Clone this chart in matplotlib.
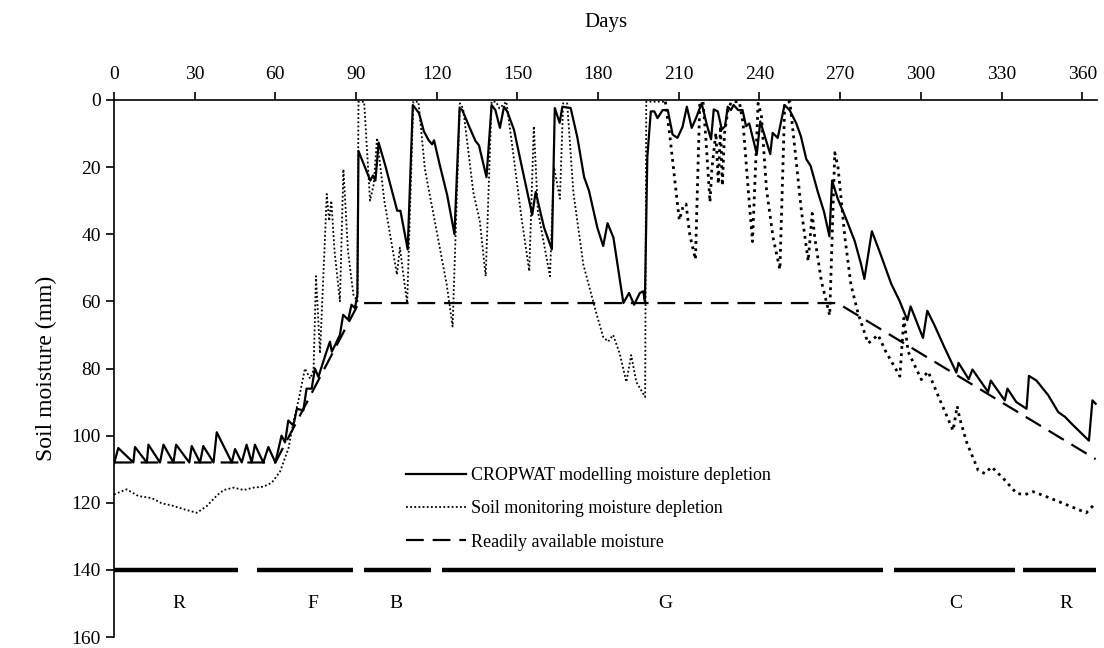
import matplotlib
matplotlib.use("Agg")
import matplotlib.pyplot as plt
from matplotlib.lines import Line2D

plt.rcParams['font.family'] = ['Liberation Serif', 'DejaVu Serif']

# CROPWAT modelled depletion (day, mm)
cropwat_days = [0, 1.6, 7.2, 7.8, 12.2, 12.8, 17.1, 18.4, 22.1, 23.1, 28, 28.9, 32, 33.2, 37, 38.2,
                43.8, 45, 47.5, 49.3, 51.2, 52.4, 55.5, 57.4, 60,
                62.3, 63.6, 64.8, 66.7, 68, 70.4, 71.6, 73.5, 74.7, 76, 79, 80.3, 81, 84, 85.2, 87.1,
                88.3, 89.6, 90.5,
                90.9, 95.3, 96.3, 97.2, 98.4, 100.9, 105.3, 106.5, 109.2, 111.1, 113.4, 115.2, 117,
                118.3, 119, 121.2, 123.9, 126.6, 128.5, 129.5, 132, 134.4, 135.7, 138.5, 140.4, 141.8,
                143.5, 145, 146.2, 148.7, 151.8, 155.5, 156.8, 159.9, 162.8, 163.9, 165.7, 166.7, 169.8,
                172.3, 174.8, 176.6, 179.7, 181.9, 183.5, 185.7, 189.4, 191.5, 193.4, 195.5, 196.8,
                197.4, 198.3, 199.6, 200.9, 202.1, 204, 205.9, 207.7, 209.5, 211.4, 213, 214.8, 216.4,
                218.5, 220.5, 222, 223, 224.5, 226, 227.2, 228.2, 229.4, 230.4, 232.1, 233.7, 235, 236.2,
                239, 240.3, 241.8, 244, 244.9, 246.8, 249.3, 251.2, 253.6, 255.4, 257.4, 259, 261.7,
                264, 266, 267, 269.1, 272.1, 275.4, 277.8, 279, 281.8, 285, 289, 292, 295, 296.2, 298.7,
                300.8, 302.4, 305, 308.6, 313.2, 314, 317.8, 319.2, 325, 326, 331.2, 332.2, 335.5, 339.3,
                340.2, 343, 347.4, 351.1, 353.6, 356, 362.5, 363.8, 365]
cropwat_vals = [108.3, 103.7, 108, 103.4, 108, 102.7, 108, 102.7, 108, 102.7, 108, 103.1, 108, 103.1, 108, 99,
                108, 104, 108, 102.7, 108, 102.7, 108, 103.4, 108,
                100, 102, 95.5, 97, 92, 92.5, 86, 86, 80, 82.5, 75, 72, 75, 70, 64, 65.5,
                61, 62, 58,
                15.2, 24, 22.5, 24, 12.7, 19.6, 33, 33, 44.5, 1.5, 3.9, 9.3, 12,
                13.2, 12, 19.6, 28.4, 40, 2.4, 3, 7.8, 12.2, 13.5, 23, 1.5, 3,
                8.3, 2, 3.4, 8.8, 20.5, 34.2, 27.4, 38, 44.5, 2.4, 6.8, 2, 2.4,
                11.2, 23, 27, 38, 43.5, 36.7, 41, 60.5, 57.5, 61, 57.5, 57,
                60, 17, 3.4, 3.4, 5.4, 3, 3, 10.3, 11.3, 8, 2, 8.3, 5.4,
                1, 7.6, 11.7, 2.8, 3.4, 8.8, 7.8, 2, 3, 1.5, 3, 3, 7.8, 7,
                16.1, 6.4, 10.3, 16.1, 9.8, 11.3, 1.5, 3, 6.8, 10.8, 17.6, 19.6, 27.4,
                33.3, 40.6, 24, 29.4, 35.2, 42, 49, 53.3, 39.1, 45.9, 54.8, 59.7, 65.6, 61.5, 66.6,
                70.9, 62.8, 67, 73.4, 81.2, 78.3, 83.2, 80.3, 87, 83.6, 89.5, 86, 90, 92,
                82.2, 83.6, 88, 93, 94.4, 96.4, 101.5, 89.5, 90.5]

# soil monitoring depletion, first part (fine dots)
soil_days_a = [0, 4.7, 9, 14, 17.8, 21.5, 25.8, 30.8, 34.5, 38.3, 40.8, 44.5, 48.2, 51.9, 55.6, 58.7,
               61.8, 64.9, 66.7, 69, 71, 72.9, 74.2, 75.1, 76.6, 78.5, 79.1, 80, 80.8, 82, 84, 85.3, 87,
               89, 90.5, 90.9, 93, 95.2, 96.6, 97.8, 100.5, 105.2, 106.3, 107.5, 109, 111.3, 113.2,
               115.6, 120, 123.7, 125.9, 128.6, 129.8, 133.6, 136, 138.2, 140.4, 142, 143.3, 145.9,
               148.4, 151.5, 154.4, 156.1, 157.6, 162.1, 163.6, 165.8, 167, 168.5, 170.8, 174.5, 179.4,
               181.9, 183.7, 185.6, 188, 190.5, 192.3, 194.2, 197.5, 197.9, 205]
soil_vals_a = [117.5, 116, 118, 118.6, 120.2, 120.8, 121.9, 123, 121, 117.8, 116.2, 115.5, 116.2, 115.5, 115.2, 114,
               110.6, 103.7, 96, 88, 80, 83, 80.5, 52.5, 75.5, 40, 28, 36, 30, 45, 60, 20.6, 45,
               58, 60, 0.5, 0.5, 30, 25, 11.3, 30, 52, 44, 51.5, 60.5, 0.5, 0.5,
               20.6, 39.2, 54.9, 67.5, 1, 2.5, 27.5, 36, 52.5, 0.5, 0.5, 2.5, 0.5,
               15.7, 35, 51, 7.8, 33, 52.5, 20, 29.4, 1, 1, 27.5, 49, 63.7,
               70.6, 72, 70, 75.5, 84, 76, 84, 88.5, 0.5, 0.5]

# soil monitoring depletion, second part (coarse dots)
soil_days_b = [205, 206.7, 208.6, 210.2, 211.7, 212.7, 214.1, 216.2, 217.8, 219, 220.1, 221.6, 222.3,
               223.8, 224.7, 225.5, 226.2, 227, 228.3, 229.6, 232.5, 233.9, 235.8, 237.4, 239.5, 240.7,
               242.6, 245.1, 247.6, 249.4, 251.3, 253.7, 255.5, 258.1, 259.6, 260.6, 263, 266.1, 268,
               269.2, 271.8, 274, 276.7, 280.4, 284.1, 287, 292.2, 293.7, 295.3, 300.2, 302.7, 307, 312,
               313.5, 314.5, 317, 321.3, 323.8, 326.3, 330.6, 335.6, 338.7, 341.8, 348, 354.2, 361.5, 364.5]
soil_vals_b = [0.5, 10.8, 24.5, 35.8, 31.4, 31, 40.2, 47.5, 1, 0.5, 11.8, 30.4, 20.5,
               9.8, 25, 7.8, 25.5, 10, 2.9, 0.5, 0.5, 6.9, 26.5, 42.2, 1, 4.4,
               26.5, 41.2, 50.5, 1, 0.5, 18.6, 32.4, 48, 33.8, 41.2, 53.9, 64.2, 15.7,
               20, 41.2, 55, 63.7, 72.5, 70, 75, 82.3, 65, 75, 83.3, 80.9, 89.2, 98.5,
               91.2, 95, 101.9, 110.3, 111.3, 109.3, 112.7, 117.2, 117.6, 116.7, 118.6, 120.6, 123, 120.5]

# readily available moisture
ram_days = [0, 60, 91, 269, 365]
ram_vals = [108, 108, 60.5, 60.5, 107]

# crop growth phases
phase_start = [0, 53, 93, 122, 290, 338]
phase_end = [46, 89, 118, 286, 335, 365]
phase_names = ['R', 'F', 'B', 'G', 'C', 'R']
phase_label_days = [24, 74, 105, 205, 313, 354]
phase_level = 140
phase_label_level = 150

fig = plt.figure(figsize=(11.04, 6.48), dpi=100)
ax = fig.add_axes([114 / 1104, 11 / 648, 983 / 1104, 537 / 648])

ax.plot(ram_days, ram_vals, color='black', lw=1.6, linestyle=(0, (8, 4)))
ax.plot(soil_days_a, soil_vals_a, color='black', lw=1.3, linestyle=(0, (1, 1.3)))
ax.plot(soil_days_b, soil_vals_b, color='black', lw=2.0, linestyle=(0, (1, 1.6)))
ax.plot(cropwat_days, cropwat_vals, color='black', lw=1.6)

for s, e in zip(phase_start, phase_end):
    ax.plot([s, e], [phase_level, phase_level], color='black', lw=3.2, solid_capstyle='butt')
for d, name in zip(phase_label_days, phase_names):
    ax.text(d, phase_label_level, name, ha='center', va='center', fontsize=14)

ax.set_xlim(0, 365.5)
ax.set_ylim(160, 0)
ax.set_xticks(range(0, 361, 30))
ax.set_yticks(range(0, 161, 20))
ax.xaxis.tick_top()
ax.xaxis.set_label_position('top')
ax.set_xlabel('Days', fontsize=15, labelpad=28)
ax.set_ylabel('Soil moisture (mm)', fontsize=17, labelpad=10)
ax.tick_params(axis='both', direction='out', length=6, width=1.2, labelsize=14)
ax.tick_params(axis='x', pad=6)
for side in ['right', 'bottom']:
    ax.spines[side].set_visible(False)
for side in ['left', 'top']:
    ax.spines[side].set_linewidth(1.2)

handles = [Line2D([], [], color='black', lw=1.6),
           Line2D([], [], color='black', lw=1.3, linestyle=(0, (1, 1.3))),
           Line2D([], [], color='black', lw=1.6, linestyle=(0, (8, 4)))]
labels = ['CROPWAT modelling moisture depletion',
          'Soil monitoring moisture depletion',
          'Readily available moisture']
ax.legend(handles, labels, loc='upper left', bbox_to_anchor=(0.29, 0.33), frameon=False,
          fontsize=13, handlelength=3.3, handletextpad=0.3, labelspacing=0.9, borderaxespad=0)

fig.savefig('out.png', dpi=100)
